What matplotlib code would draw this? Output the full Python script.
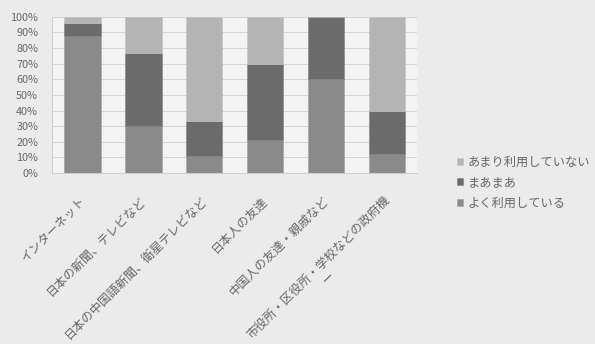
import numpy as np
import matplotlib
matplotlib.use('Agg')
import matplotlib.pyplot as plt
import matplotlib.transforms as mtransforms

plt.rcParams['font.family'] = ['Noto Sans CJK JP', 'DejaVu Sans']

#%% data

categories = ['インターネット', '日本の新聞、テレビなど', '日本の中国語新聞、衛星テレビなど',
              '日本人の友達', '中国人の友達・親戚など', '市役所・区役所・学校などの政府機\nー']
often = [88, 30, 11, 21, 60, 12]      # よく利用している
sometimes = [8, 47, 22, 49, 40, 28]   # まあまあ
rarely = [4, 23, 67, 30, 0, 60]       # あまり利用していない
series_names = ['よく利用している', 'まあまあ', 'あまり利用していない']

#%% plot

fig = plt.figure(figsize=(5.95, 3.44), dpi=100, facecolor='#ebebeb')
ax = fig.add_axes([0.0874, 0.497, 0.614, 0.454])
ax.set_facecolor('#f3f3f3')

x = np.arange(len(categories))
w = 0.6
colors = ['#8a8a8a', '#6b6b6b', '#b4b4b4']
b1 = ax.bar(x, often, w, color=colors[0], edgecolor='#a0a0a0', linewidth=0.4, zorder=3)
b2 = ax.bar(x, sometimes, w, bottom=often, color=colors[1], edgecolor='#808080', linewidth=0.4, zorder=3)
b3 = ax.bar(x, rarely, w, bottom=np.array(often) + np.array(sometimes), color=colors[2],
            edgecolor='#c4c4c4', linewidth=0.4, zorder=3)

ax.set_xlim(-0.5, len(categories) - 0.5)
ax.set_ylim(0, 100)
ax.set_yticks(np.arange(0, 101, 10))
ax.set_yticklabels(['%d%%' % v for v in range(0, 101, 10)], fontsize=7.8, color='#666666')
ax.set_xticks(x)
ax.set_xticklabels(categories, rotation=45, ha='right', rotation_mode='anchor',
                   fontsize=8.8, color='#666666', linespacing=1.1)
ax.tick_params(axis='y', length=0, pad=10)
ax.tick_params(axis='x', length=0, pad=11)
# shift category labels down-left like the original
offset = mtransforms.ScaledTranslation(-0.04, -0.055, fig.dpi_scale_trans)
for lbl in ax.get_xticklabels():
    lbl.set_transform(lbl.get_transform() + offset)
    lbl.set_multialignment('center')
ax.grid(axis='y', color='#d4d4d4', linewidth=0.7, zorder=0)
for s in ['top', 'right']:
    ax.spines[s].set_visible(False)
ax.spines['left'].set_color('#cfcfcf')
ax.spines['bottom'].set_color('#cfcfcf')

leg = fig.legend([b3, b2, b1], series_names[::-1], loc='upper left',
                 bbox_to_anchor=(0.75, 0.58), frameon=False, fontsize=8.8,
                 handlelength=0.5, handleheight=0.5, handletextpad=0.35,
                 labelspacing=0.62, labelcolor='#666666')

fig.savefig('out.png', dpi=100, facecolor=fig.get_facecolor())
